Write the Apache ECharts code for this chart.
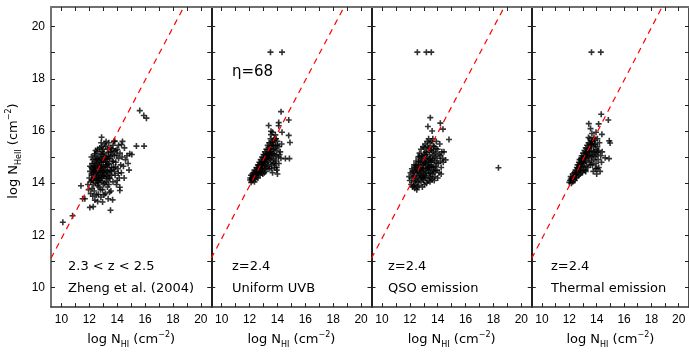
<!DOCTYPE html>
<html>
<head>
<meta charset="utf-8">
<script src="https://cdn.jsdelivr.net/npm/echarts@6/dist/echarts.min.js"></script>
<style>html,body{margin:0;padding:0;background:#fff}#chart{width:689px;height:354px}</style>
</head>
<body>
<div id="chart"></div>
<script>
// ---- data ----
const axisMin = 9.25, axisMax = 20.75;
const tickValues = [10, 11, 12, 13, 14, 15, 16, 17, 18, 19, 20];
const tickLabels = [10, 12, 14, 16, 18, 20];
const panelRedshift = ['2.3 < z < 2.5', 'z=2.4', 'z=2.4', 'z=2.4'];
const panelSource = ['Zheng et al. (2004)', 'Uniform UVB', 'QSO emission', 'Thermal emission'];
const etaLabel = 'η=68';
// red dashed eta=68 relation (endpoints)
const etaLine = [[9.25, 11.12], [18.78, 20.75]];

const zhengData = [
  [10.1,12.5],[10.8,12.75],[11.4,13.9],[11.68,13.4],[11.52,13.4],[12.04,13.07],[12.28,13.1],[12.64,13.57],[12.83,13.47],[12.95,13.28],
  [13.35,13.4],[13.52,12.96],[13.67,13.36],[14.19,13.84],[14.19,13.72],[12.88,15.76],[13.76,15.6],[14.38,15.6],[14.52,15.35],[14.9,15.13],
  [15.38,15.42],[15.93,15.42],[15.62,16.78],[15.91,16.59],[16.1,16.49],[14.78,14.75],[14.31,15.48],[13.83,15.61],
  [11.9,13.95],[12.0,14.2],[12.05,14.45],[12.1,14.05],[12.15,14.6],[12.2,13.8],[12.2,14.3],[12.25,14.9],[12.3,14.15],[12.3,14.5],
  [12.35,13.7],[12.35,14.75],[12.4,14.35],[12.4,15.05],[12.45,14.0],[12.45,14.6],[12.5,13.55],[12.5,14.85],[12.55,14.25],[12.55,15.2],
  [12.6,14.45],[12.6,13.9],[12.65,14.7],[12.7,14.1],[12.7,15.0],[12.75,14.4],[12.75,15.35],[12.8,13.75],[12.8,14.6],[12.85,14.95],
  [12.9,14.2],[12.9,15.4],[12.95,14.5],[13.0,13.95],[13.0,14.8],[13.05,15.15],[13.1,14.35],[13.1,15.5],[13.15,14.65],[13.2,14.05],
  [13.2,15.0],[13.25,14.45],[13.3,15.3],[13.3,13.85],[13.35,14.75],[13.4,14.2],[13.4,15.55],[13.45,14.95],[13.5,14.5],[13.55,13.7],
  [13.55,15.2],[13.6,14.3],[13.65,14.85],[13.7,14.05],[13.7,15.45],[13.75,14.6],[13.8,15.05],[13.85,14.3],[13.9,14.8],[13.95,13.95],
  [14.0,15.3],[14.05,14.55],[14.1,14.95],[14.15,14.2],[14.2,15.15],[14.25,14.7],[14.3,14.4],[14.35,15.0],[14.45,14.65],[14.5,14.2],
  [14.6,14.9],[14.7,15.05],[14.85,14.5],[15.05,15.1],
  [12.15,14.35],[12.25,14.55],[12.35,14.2],[12.5,14.4],[12.6,14.95],[12.7,14.55],[12.8,14.3],[12.85,14.8],[12.95,15.1],[13.05,14.25],
  [13.15,14.9],[12.4,14.65],[12.55,14.1],[12.65,14.3],[12.75,14.85],[12.9,14.65],[13.0,14.45],[13.1,14.0],[13.25,14.7],[13.35,15.05],
  [13.45,14.35],[12.2,14.75],[12.3,13.95],[12.45,15.25],[12.6,15.3],[12.85,15.55],[13.0,15.3],[13.2,15.6],[12.7,13.85],[12.95,13.75],
  [13.15,13.6],[13.4,13.95],[13.6,14.6],[13.8,14.45],[14.0,14.1],[12.1,13.6],[11.95,13.75],[12.05,14.65],[12.15,15.0],[12.25,13.5],
  [13.05,13.55],[12.4,13.35],[12.6,13.3],[13.65,15.1],[13.9,15.25],[14.1,15.45],[13.5,15.35],[13.3,14.6],[13.45,13.65],
  [12.22,14.12],[12.32,14.62],[12.42,14.48],[12.52,14.18],[12.58,14.78],[12.68,14.22],[12.72,14.66],[12.78,14.12],[12.82,15.12],[12.88,14.42],
  [12.92,14.88],[12.98,14.28],[13.02,14.62],[13.08,15.02],[13.12,14.48],[13.18,14.82],[13.22,14.28],[13.28,14.92],[13.32,14.42],[13.38,15.18],
  [13.42,14.72],[13.48,14.18],[13.52,15.02],[13.58,14.48],[13.62,15.32],[13.72,14.82],[13.78,15.22],[13.88,14.62],[13.98,15.08],[14.08,14.38],
  [12.48,14.92],[12.38,15.12],[12.62,14.58],[12.92,15.22],[13.18,15.42],[12.28,14.42],[12.18,14.12],[12.62,14.02],[12.88,14.08],[13.28,14.18]
];

const uniformData = [
  [13.5,19.02],[14.33,19.02],[14.26,16.74],[14.81,16.42],[13.37,16.21],[14.09,16.32],[14.09,16.2],[13.54,15.99],[13.54,15.86],[14.33,15.95],
  [14.81,15.83],[14.9,15.56],[14.57,14.94],[14.86,14.94],[13.95,14.6],[13.85,14.75],[12.04,14.12],[12.18,14.2],[12.47,14.22],[12.11,14.03],
  [12.05,14.2],[12.1,14.3],[12.15,14.15],[12.2,14.35],[12.25,14.25],[12.3,14.4],[12.3,14.2],[12.35,14.5],[12.4,14.3],[12.45,14.45],
  [12.5,14.35],[12.5,14.6],[12.55,14.5],[12.6,14.4],[12.6,14.7],[12.65,14.55],[12.7,14.45],[12.7,14.8],[12.75,14.6],[12.8,14.5],
  [12.8,14.9],[12.85,14.7],[12.9,14.55],[12.9,15.0],[12.95,14.8],[13.0,14.6],[13.0,15.1],[13.05,14.9],[13.1,14.7],[13.1,15.2],
  [13.15,15.0],[13.2,14.75],[13.2,15.3],[13.25,15.1],[13.3,14.85],[13.3,15.45],[13.35,15.2],[13.4,14.95],[13.4,15.55],[13.45,15.3],
  [13.5,15.05],[13.5,15.7],[13.55,15.4],[13.6,15.15],[13.65,15.55],[13.7,14.9],[13.7,15.3],[13.75,15.65],[13.8,15.1],[13.85,15.45],
  [13.9,14.85],[13.95,15.25],[14.0,15.6],[14.05,15.0],[14.1,15.4],[14.2,15.2],[14.3,15.5],[13.6,14.7],[13.4,14.55],[13.25,14.6],
  [13.5,14.8],[13.8,14.6],[13.15,14.45],[12.95,14.35],[12.75,14.3],[13.05,14.4],[13.35,14.65],[13.6,14.95],[13.9,15.05],[14.15,15.1],
  [12.85,14.4],[13.0,14.85],[13.2,15.05],[13.45,15.15],[13.7,15.45],[13.9,15.7],[13.3,15.0],[13.55,14.55],[12.65,14.35],[12.4,14.15],
  [12.6,14.2],[12.35,14.05],[12.2,14.1],[13.1,14.55],[13.75,14.75],[13.95,14.5],[14.1,14.75],[14.25,14.95],[13.65,14.4],[14.0,14.35],
  [13.85,15.85],[13.65,15.95],
  [12.42,14.38],[12.58,14.58],[12.72,14.68],[12.88,14.82],[13.02,14.98],[13.18,15.12],[13.32,15.28],[13.48,15.42],[13.62,15.58],[13.78,15.72],
  [12.62,14.48],[12.78,14.72],[12.92,14.68],[13.08,14.82],[13.22,14.92],[13.38,15.08],[13.52,15.22],[13.68,15.12],[13.82,15.32],[13.98,15.45]
];

const qsoData = [
  [12.54,19.02],[13.19,19.02],[13.54,19.02],[18.36,14.59],[13.47,16.51],[14.19,16.3],[14.38,16.07],[13.3,16.17],[13.6,16.0],[14.81,15.67],
  [14.57,14.89],[14.45,15.2],
  [11.95,14.25],[12.0,14.1],[12.05,14.4],[12.1,13.95],[12.15,14.55],[12.15,14.2],[12.2,13.85],[12.25,14.35],[12.3,14.7],[12.3,14.05],
  [12.35,13.8],[12.4,14.5],[12.4,14.2],[12.45,14.85],[12.5,13.75],[12.5,14.4],[12.55,14.05],[12.55,14.65],[12.6,15.0],[12.6,14.25],
  [12.65,13.9],[12.7,14.55],[12.7,15.15],[12.75,14.3],[12.75,14.8],[12.8,14.05],[12.8,15.3],[12.85,14.5],[12.9,14.95],[12.9,14.2],
  [12.95,15.4],[12.95,14.7],[13.0,14.35],[13.0,15.1],[13.05,13.95],[13.05,14.85],[13.1,14.55],[13.1,15.5],[13.15,14.2],[13.15,15.2],
  [13.2,14.7],[13.2,14.4],[13.25,15.0],[13.25,15.6],[13.3,14.1],[13.3,14.85],[13.35,14.5],[13.35,15.35],[13.4,14.25],[13.4,15.1],
  [13.45,14.7],[13.45,15.55],[13.5,14.4],[13.5,14.95],[13.55,15.25],[13.6,14.6],[13.6,14.15],[13.65,15.05],[13.65,15.7],[13.7,14.45],
  [13.75,14.85],[13.75,15.4],[13.8,14.25],[13.85,15.15],[13.85,14.65],[13.9,15.6],[13.95,14.5],[13.95,14.95],[14.0,15.3],[14.05,14.75],
  [14.1,15.1],[14.1,14.4],[14.15,15.5],[14.2,14.85],[14.25,14.6],[14.3,15.2],[14.35,14.95],[12.2,14.45],[12.35,14.6],[12.45,14.1],
  [12.6,14.45],[12.65,14.7],[12.8,14.6],[12.85,14.25],[12.95,14.45],[13.0,14.75],[13.1,14.3],[13.15,14.95],[13.25,14.55],[13.35,14.8],
  [13.4,14.6],[13.5,14.2],[13.55,14.8],[13.65,14.35],[13.7,15.2],[13.8,15.0],[13.55,15.6],[13.35,15.7],[13.05,15.35],[12.85,15.05],
  [12.7,14.15],[12.4,13.95],[12.25,13.9],[12.55,13.85],[12.9,13.85],[13.2,14.0],[13.45,14.05],[13.75,14.1],[14.0,14.2],[14.2,15.05],
  [14.4,14.8],[14.25,14.35],
  [12.52,14.52],[12.62,14.82],[12.72,14.38],[12.82,14.88],[12.92,14.58],[13.02,14.22],[13.12,14.78],[13.22,15.18],[13.32,14.62],[13.42,14.92],
  [13.52,14.62],[13.62,14.88],[13.72,14.62],[13.82,14.48],[13.92,14.78],[12.42,14.68],[12.32,14.28],[12.68,15.02],[13.08,15.08],[13.28,15.42],
  [13.48,15.28],[13.68,15.42],[13.88,15.32],[12.98,14.12],[13.38,14.38]
];

const thermalData = [
  [13.62,19.02],[14.3,19.02],[14.33,16.64],[14.85,16.42],[13.42,16.28],[14.14,16.27],[13.55,16.09],[13.95,15.95],[14.38,15.87],[14.92,15.62],
  [14.98,15.54],[14.62,14.97],[14.9,14.94],[14.02,14.56],[12.11,14.16],[12.0,14.03],
  [12.05,14.1],[12.1,14.25],[12.2,14.2],[12.25,14.35],[12.3,14.15],[12.35,14.4],[12.4,14.3],[12.45,14.5],[12.5,14.4],[12.55,14.6],
  [12.6,14.45],[12.6,14.7],[12.65,14.55],[12.7,14.8],[12.75,14.5],[12.75,14.9],[12.8,14.65],[12.85,14.95],[12.9,14.6],[12.9,15.05],
  [12.95,14.8],[13.0,15.15],[13.0,14.65],[13.05,14.95],[13.1,15.25],[13.1,14.75],[13.15,15.05],[13.2,15.35],[13.2,14.85],[13.25,15.15],
  [13.3,15.45],[13.3,14.95],[13.35,15.25],[13.4,15.55],[13.4,15.0],[13.45,15.35],[13.5,15.7],[13.5,15.1],[13.55,15.45],[13.6,14.85],
  [13.6,15.25],[13.65,15.6],[13.7,15.05],[13.75,15.4],[13.8,15.75],[13.8,14.9],[13.85,15.2],[13.9,15.5],[13.95,14.75],[14.0,15.1],
  [14.05,15.4],[14.1,14.9],[14.15,15.25],[14.2,15.55],[14.3,15.05],[14.35,14.8],[13.35,14.6],[13.55,14.7],[13.15,14.5],[12.95,14.4],
  [13.25,14.65],[13.45,14.8],[13.7,14.7],[13.9,14.55],[14.15,14.6],[12.7,14.3],[12.85,14.45],[13.05,14.5],[12.55,14.25],[12.4,14.1],
  [12.25,14.05],[12.15,14.0],[13.65,15.9],[13.85,15.65],[14.05,15.7],[13.4,15.75],[13.75,14.45],[14.0,14.35],[14.25,14.45],[13.2,14.45],
  [12.8,14.35],[13.0,14.95],[13.3,15.2],[13.6,15.5],[13.95,15.3],[12.35,14.25],[12.5,14.2],[14.4,15.2],
  [12.48,14.32],[12.62,14.58],[12.78,14.72],[12.92,14.88],[13.08,15.02],[13.22,15.18],[13.38,15.32],[13.52,15.48],[13.68,15.62],[13.82,15.48],
  [12.72,14.62],[12.88,14.78],[13.02,14.82],[13.18,14.98],[13.32,15.08],[13.48,15.22],[13.62,15.02],[13.78,15.18],[13.92,15.02],[14.08,15.18]
];

const panelData = [zhengData, uniformData, qsoData, thermalData];

// ---- layout ----
const gridLeft = 51, gridW = 160.25, gridTop = 7, gridH = 305;
const FONT = 'DejaVu Sans';
const crossPath = 'path://M2.2,0H3.8V2.2H6V3.8H3.8V6H2.2V3.8H0V2.2H2.2Z';

const nameRich = {
  b: { fontSize: 13, fontFamily: FONT, color: '#000', lineHeight: 18 },
  sub: { fontSize: 8, fontFamily: FONT, color: '#000', verticalAlign: 'bottom', lineHeight: 12 },
  sup: { fontSize: 8, fontFamily: FONT, color: '#000', verticalAlign: 'top', lineHeight: 12 }
};

const grid = [], xAxis = [], yAxis = [], series = [], graphic = [];
for (let i = 0; i < 4; i++) {
  grid.push({ left: gridLeft + i * gridW, top: gridTop, width: gridW, height: gridH });
}
const vLineColor = '#111';
// bottom x axes 0..3
for (let i = 0; i < 4; i++) {
  xAxis.push({
    type: 'value', gridIndex: i, min: axisMin, max: axisMax, position: 'bottom',
    axisLine: { show: true, onZero: false, lineStyle: { color: '#333', width: 1.5 } },
    axisTick: { show: true, inside: true, length: 4, customValues: tickValues, lineStyle: { color: '#222', width: 1 } },
    axisLabel: { show: true, customValues: tickLabels, margin: 7, fontSize: 12, fontFamily: 'Liberation Sans', color: '#000' },
    splitLine: { show: false },
    name: '{b|log N}{sub|HI}{b| (cm}{sup|−2}{b|)}',
    nameLocation: 'middle', nameGap: 21,
    nameTextStyle: { rich: nameRich }
  });
}
// top x axes 4..7
for (let i = 0; i < 4; i++) {
  xAxis.push({
    type: 'value', gridIndex: i, min: axisMin, max: axisMax, position: 'top',
    axisLine: { show: true, onZero: false, lineStyle: { color: '#707070', width: 2 } },
    axisTick: { show: true, inside: true, length: 4, customValues: tickValues, lineStyle: { color: '#222', width: 1 } },
    axisLabel: { show: false }, splitLine: { show: false }
  });
}
// left y axes 0..3
for (let i = 0; i < 4; i++) {
  const ax = {
    type: 'value', gridIndex: i, min: axisMin, max: axisMax, position: 'left',
    axisLine: { show: true, onZero: false, lineStyle: { color: i === 0 ? '#444' : vLineColor, width: 1.5 } },
    axisTick: { show: true, inside: true, length: 4, customValues: tickValues, lineStyle: { color: '#222', width: 1 } },
    axisLabel: { show: i === 0, customValues: tickLabels, margin: 6, fontSize: 12, fontFamily: 'Liberation Sans', color: '#000' },
    splitLine: { show: false }
  };
  if (i === 0) {
    ax.name = '{b|log N}{sub|HeII}{b| (cm}{sup|−2}{b|)}';
    ax.nameLocation = 'middle';
    ax.nameRotate = 90;
    ax.nameGap = 28;
    ax.nameTextStyle = { rich: nameRich, padding: [0, 0, 0, 12] };
  }
  yAxis.push(ax);
}
// right y axes 4..7
for (let i = 0; i < 4; i++) {
  yAxis.push({
    type: 'value', gridIndex: i, min: axisMin, max: axisMax, position: 'right',
    axisLine: { show: true, onZero: false, lineStyle: { color: vLineColor, width: 1.5 } },
    axisTick: { show: true, inside: true, length: 4, customValues: tickValues, lineStyle: { color: '#222', width: 1 } },
    axisLabel: { show: false }, splitLine: { show: false }
  });
}
for (let i = 0; i < 4; i++) {
  series.push({
    type: 'scatter', xAxisIndex: i, yAxisIndex: i, data: panelData[i],
    symbol: crossPath, symbolSize: 6, itemStyle: { color: '#000' }, z: 2
  });
  series.push({
    type: 'line', xAxisIndex: i, yAxisIndex: i, data: etaLine, symbol: 'none',
    lineStyle: { color: '#ff0000', width: 1.2, type: [6, 5] }, z: 5, silent: true
  });
}
// annotations
const textLeft = [68, 232, 388, 551];
for (let i = 0; i < 4; i++) {
  graphic.push({ type: 'text', x: textLeft[i], y: 267, style: { text: panelRedshift[i], font: '13px "' + FONT + '"', fill: '#000', verticalAlign: 'middle' } });
  graphic.push({ type: 'text', x: textLeft[i], y: 289, style: { text: panelSource[i], font: '13px "' + FONT + '"', fill: '#000', verticalAlign: 'middle' } });
}
graphic.push({ type: 'text', x: 232, y: 72, style: { text: etaLabel, font: '15px "' + FONT + '"', fill: '#000', verticalAlign: 'middle' } });

const chart = echarts.init(document.getElementById('chart'), null, { renderer: 'canvas' });
chart.setOption({
  animation: false,
  backgroundColor: '#fff',
  grid, xAxis, yAxis, series, graphic
});
</script>
</body>
</html>
